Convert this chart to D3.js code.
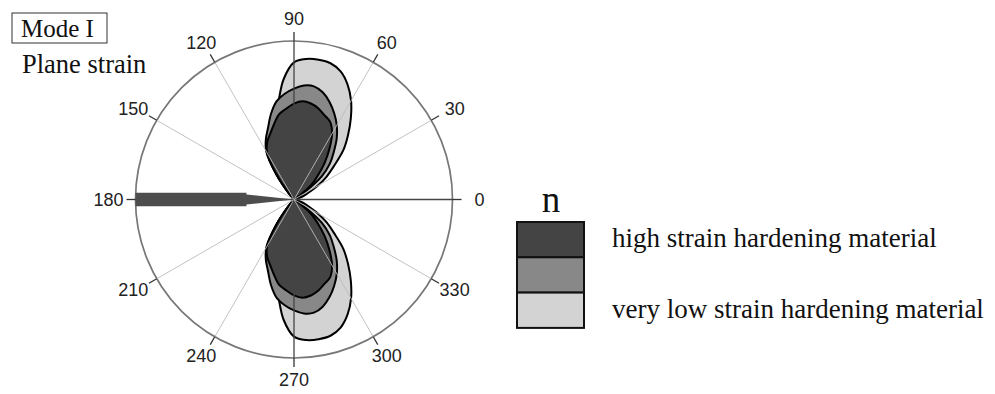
<!DOCTYPE html>
<html>
<head>
<meta charset="utf-8">
<script src="https://cdn.jsdelivr.net/npm/d3@7"></script>
<style>
  body { margin: 0; background: #fff; }
  .tick-label { font-family: "Liberation Sans", sans-serif; font-size: 18px; fill: #222; }
  .serif { font-family: "Liberation Serif", serif; fill: #111; }
</style>
</head>
<body>
<div class="chart"></div>
<script>
// angles (deg) the plastic zone radius was read at, upper half only (lower half is mirrored)
var angles = [0, 5, 10, 15, 20, 25, 30, 35, 40, 45, 50, 55, 60, 65, 70, 75, 80, 85, 90,
              95, 100, 105, 110, 115, 120, 125, 130, 135, 140, 145, 150, 155, 160, 165, 170, 175, 180];

// radius as a fraction of the outer ring
var highN = [0, 0, 0, 0, 0, 0, 0, 0.04, 0.14, 0.21, 0.30, 0.39, 0.48, 0.54, 0.565, 0.595, 0.615, 0.622, 0.605,
             0.575, 0.545, 0.49, 0.44, 0.40, 0.34, 0.19, 0.05, 0, 0, 0, 0, 0, 0, 0, 0, 0, 0];
var midN = [0, 0, 0, 0, 0, 0, 0.02, 0.09, 0.23, 0.32, 0.39, 0.47, 0.54, 0.60, 0.655, 0.70, 0.725, 0.722, 0.70,
            0.67, 0.63, 0.56, 0.48, 0.42, 0.35, 0.20, 0.05, 0, 0, 0, 0, 0, 0, 0, 0, 0, 0];
var lowN = [0, 0, 0, 0, 0.06, 0.10, 0.17, 0.25, 0.33, 0.44, 0.53, 0.625, 0.72, 0.80, 0.86, 0.89, 0.895, 0.89, 0.865,
            0.76, 0.60, 0.52, 0.45, 0.40, 0.33, 0.19, 0.05, 0, 0, 0, 0, 0, 0, 0, 0, 0, 0];

// the thin zone along the crack flank (180 deg): radius vs half width
var spikeR = [0, 0.30, 0.30, 1.0];
var spikeHalf = [0, 0.032, 0.042, 0.042];

var gridAngles = [0, 30, 60, 90, 120, 150, 180, 210, 240, 270, 300, 330];
var legendLabels = ["high strain hardening material", "", "very low strain hardening material"];
var legendColors = ["#444444", "#888888", "#d3d3d3"];

var width = 995, height = 394;
var cx = 294, cy = 199.5, R = 158.5;

var r = d3.scaleLinear().domain([0, 1]).range([0, R]);
var rad = d => d * Math.PI / 180;

var svg = d3.select(".chart").append("svg")
    .attr("width", width)
    .attr("height", height);

// turn one half of a series into cartesian points, starting and ending at the tip
function halfPoints(vals, sign) {
    var pts = [[cx, cy]];
    angles.forEach(function(a, i) {
        if (vals[i] > 0) {
            pts.push([cx + r(vals[i]) * Math.cos(rad(a)),
                      cy - sign * r(vals[i]) * Math.sin(rad(a))]);
        }
    });
    pts.push([cx, cy]);
    return pts;
}

var lobeLine = d3.line().curve(d3.curveCatmullRom.alpha(0.5));

var series = [
    {vals: lowN, fill: legendColors[2]},
    {vals: midN, fill: legendColors[1]},
    {vals: highN, fill: legendColors[0]}
];

var lobes = svg.append("g");
series.forEach(function(s) {
    [1, -1].forEach(function(sign) {
        lobes.append("path")
            .attr("d", lobeLine(halfPoints(s.vals, sign)) + "Z")
            .attr("fill", s.fill)
            .attr("stroke", "#000")
            .attr("stroke-width", 2)
            .attr("stroke-linejoin", "round");
    });
});

// grid
var grid = svg.append("g");
grid.append("circle")
    .attr("cx", cx).attr("cy", cy).attr("r", r(1))
    .attr("fill", "none")
    .attr("stroke", "#777")
    .attr("stroke-width", 1.7);

gridAngles.forEach(function(a) {
    var c = Math.cos(rad(a)), s = Math.sin(rad(a));
    var main = a % 90 === 0;
    grid.append("line")
        .attr("x1", cx).attr("y1", cy)
        .attr("x2", cx + r(1) * c).attr("y2", cy - r(1) * s)
        .attr("stroke", main ? "#444" : "#bbb")
        .attr("stroke-width", main ? 1.3 : 0.9);
    grid.append("line")
        .attr("x1", cx + r(1) * c).attr("y1", cy - r(1) * s)
        .attr("x2", cx + (r(1) + 9) * c).attr("y2", cy - (r(1) + 9) * s)
        .attr("stroke", "#333")
        .attr("stroke-width", 1.3);
    grid.append("text")
        .attr("class", "tick-label")
        .attr("x", cx + (r(1) + 27) * c)
        .attr("y", cy - (r(1) + 22) * s)
        .attr("text-anchor", "middle")
        .attr("dominant-baseline", "central")
        .text(a);
});

// spike along 180
var spikePts = spikeR.map((d, i) => [cx - r(d), cy - r(spikeHalf[i])])
    .concat(spikeR.slice().reverse().map((d, i) => [cx - r(d), cy + r(spikeHalf[spikeHalf.length - 1 - i])]));
svg.append("path")
    .attr("d", d3.line()(spikePts) + "Z")
    .attr("fill", "#4d4d4d");

// titles
svg.append("rect")
    .attr("x", 12).attr("y", 13)
    .attr("width", 95).attr("height", 30)
    .attr("fill", "none")
    .attr("stroke", "#333")
    .attr("stroke-width", 1);
svg.append("text").attr("class", "serif")
    .attr("x", 21).attr("y", 37)
    .style("font-size", "25px")
    .text("Mode I");
svg.append("text").attr("class", "serif")
    .attr("x", 22).attr("y", 73)
    .style("font-size", "26.5px")
    .text("Plane strain");

// legend
var legend = svg.append("g").attr("transform", "translate(517,222)");
legend.append("text").attr("class", "serif")
    .attr("x", 34).attr("y", -10)
    .attr("text-anchor", "middle")
    .style("font-size", "37px")
    .text("n");
legendColors.forEach(function(col, i) {
    legend.append("rect")
        .attr("x", 0).attr("y", i * 35.3)
        .attr("width", 67).attr("height", 35.3)
        .attr("fill", col)
        .attr("stroke", "#111")
        .attr("stroke-width", 2);
    legend.append("text").attr("class", "serif")
        .attr("x", 95).attr("y", i * 35.3 + 25)
        .style("font-size", "27px")
        .text(legendLabels[i]);
});
</script>
</body>
</html>
